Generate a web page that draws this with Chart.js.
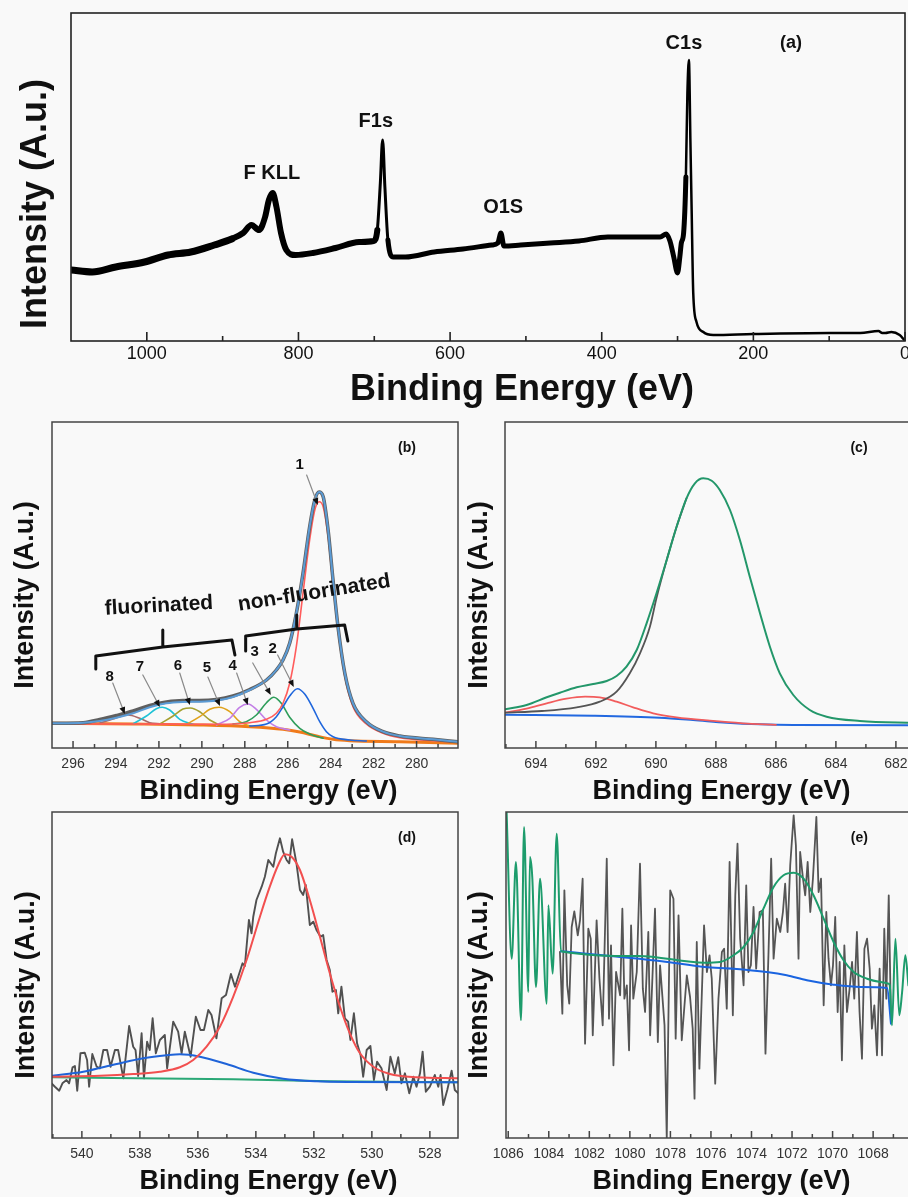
<!DOCTYPE html>
<html>
<head>
<meta charset="utf-8">
<script src="https://cdn.jsdelivr.net/npm/chart.js@4.4.1/dist/chart.umd.min.js"></script>
<style>
  html, body { margin: 0; padding: 0; background: #f9f9f9; overflow: hidden; }
  body { width: 908px; height: 1197px; position: relative; }
  canvas { position: absolute; }
</style>
</head>
<body>
<canvas id="panelA" width="908" height="415" style="left:0;top:0"></canvas>
<canvas id="panelB" width="460" height="395" style="left:0;top:415px"></canvas>
<canvas id="panelC" width="490" height="395" style="left:460px;top:415px"></canvas>
<canvas id="panelD" width="460" height="392" style="left:0;top:805px"></canvas>
<canvas id="panelE" width="490" height="392" style="left:460px;top:805px"></canvas>
<script>
const FONT = "'Liberation Sans', Arial, Helvetica, sans-serif";

// (a) survey spectrum
const surveyE = [1100, 1072, 1041, 1003, 972, 942, 911, 888, 873, 862, 852, 844, 839, 834, 829, 823, 816, 804, 781, 751,
  720, 701, 696, 692, 689, 686, 682, 675, 659, 621, 583, 545, 537, 533, 529, 507, 468, 430, 392, 354,
  323, 315, 310, 305, 300, 297, 295, 292, 289, 287, 285, 283, 281.4, 279.3, 275, 266, 253, 200, 100, 59,
  35, 30, 26, 18, 7, 1];
const surveyI = [71, 69, 74, 79, 86, 89, 96, 102, 108, 116, 111, 124, 141, 148, 134, 108, 91, 86, 88, 93,
  99, 100, 111, 158, 201, 154, 101, 84, 84, 89, 92, 96, 98, 108, 95, 96, 98, 100, 104, 104,
  104, 107, 100, 84, 68, 84, 98, 108, 164, 248, 281, 198, 131, 48, 19, 9, 6, 7, 8, 8,
  10, 8, 8, 9, 6, 1];
const surveyTicks = [0, 200, 400, 600, 800, 1000];
const surveyMinor = [100, 300, 500, 700, 900];

// (b) C1s
const c1sEnvE = [296.98, 295.53, 294.76, 293.98, 293.2, 292.43, 291.65, 290.88, 290.1, 289.32, 288.55, 287.77, 286.99, 286.53, 286.22, 285.91,
  285.6, 285.29, 284.98, 284.74, 284.54, 284.35, 284.12, 283.89, 283.66, 283.34, 282.96, 282.34, 281.56, 280.78, 279.23, 278.07];
const c1sEnvI = [24.7, 25.3, 27, 30.3, 34.7, 40.7, 44.7, 46, 46.3, 47.5, 51, 58, 68, 78, 88, 104.7,
  134.7, 174.7, 221.3, 248, 256, 251.3, 218, 168, 121.3, 74.7, 44.7, 26.3, 16.3, 12, 8.7, 6.3];
const c1sRawI = [24.7, 25.3, 28.5, 32.5, 37, 42.5, 46, 47.5, 47.5, 48.5, 52, 58.5, 68, 78, 88, 104.7,
  134.7, 174.7, 221.3, 248, 256, 251.3, 218, 168, 121.3, 74.7, 44.7, 26.3, 16.3, 12, 8.7, 6.3];
const peak1E = [296.98, 293.2, 290.1, 288.55, 287.77, 286.99, 286.53, 286.22, 285.91, 285.6, 285.29, 284.98, 284.74, 284.54, 284.35, 284.12,
  283.89, 283.66, 283.34, 282.96, 282.34, 281.56, 280.78, 279.23, 278.07];
const peak1I = [24, 24, 23.7, 24, 25.3, 28.7, 34.7, 44.7, 64.7, 101.3, 154.7, 208, 238, 246.3, 241.3, 211.3,
  163, 118, 71.3, 41.3, 24, 14.7, 10.3, 7.3, 5.7];
const peak2E = [287.77, 286.99, 286.53, 286.22, 285.91, 285.55, 285.21, 284.82, 284.51, 284.2, 283.89, 283.11, 282.34];
const peak2I = [22, 24, 31.3, 41.3, 52, 59.3, 54, 39.7, 26.3, 16.3, 11.3, 8, 7];
const peak3E = [288.55, 287.93, 287.46, 286.99, 286.65, 286.3, 285.91, 285.44, 284.98, 284.35];
const peak3I = [24, 26.3, 33, 45.3, 50.7, 44.7, 30.7, 19.7, 14, 9.7];
const peak4E = [289.32, 288.7, 288.24, 287.85, 287.46, 286.99, 286.53, 285.91];
const peak4I = [23, 29.7, 40.7, 44, 38.7, 28, 21.3, 18];
const peak5E = [290.72, 290.1, 289.63, 289.2, 288.7, 288.24, 287.77];
const peak5I = [23.7, 31.3, 38.7, 40.7, 36.3, 26.3, 22];
const peak6E = [291.96, 291.34, 290.88, 290.53, 290.1, 289.63, 289.17];
const peak6I = [24, 32, 39, 40, 36.3, 28, 23];
const peak7E = [293.2, 292.58, 292.12, 291.84, 291.5, 291.03, 290.41];
const peak7I = [24.3, 32, 39.3, 40.7, 38, 28.7, 23.7];
const peak8E = [294.76, 294.14, 293.44, 292.89, 292.43, 291.96];
const peak8I = [24.7, 29, 33, 29.7, 25.3, 24.3];
const c1sBaseE = [296.98, 293.2, 290.1, 287.77, 286.22, 285.44, 284.66, 283.89, 283.11, 280.78, 278.07];
const c1sBaseI = [24.7, 24, 23, 21.3, 18.7, 16, 12, 8.7, 7.3, 6.3, 4.7];
const c1sTicks = [280, 282, 284, 286, 288, 290, 292, 294, 296];
const c1sMinor = [279, 281, 283, 285, 287, 289, 291, 293, 295, 297];

// (c) F1s
const f1sEnvE = [695.03, 694.31, 693.64, 693.2, 692.64, 692.09, 691.64, 691.31, 690.98, 690.64, 690.31, 689.98, 689.64, 689.31, 688.98, 688.7,
  688.42, 688.14, 687.87, 687.53, 687.2, 686.87, 686.53, 686.2, 685.87, 685.42, 684.87, 684.31, 683.2, 681.6, 680.63];
const f1sEnvI = [38.7, 43, 50.7, 55.3, 60.7, 64, 67, 72, 81.3, 98, 124.7, 154.7, 188, 221.3, 249.7, 264.7,
  269.7, 267.3, 258, 238, 208, 171.3, 134.7, 101.3, 74.7, 53, 38, 31.3, 27, 25.3, 25];
const f1sMainE = [695.03, 693.8, 692.64, 691.87, 691.31, 690.87, 690.53, 690.2, 689.98, 689.64, 689.31, 688.98];
const f1sMainI = [35.3, 37, 40.7, 46.3, 56.3, 74.7, 94.7, 121.3, 150, 188, 221.3, 249.7];
const f1sSmallE = [695.03, 694.31, 693.64, 692.98, 692.36, 691.87, 691.31, 690.76, 690.09, 689.31, 688.2, 687.1, 686.0];
const f1sSmallI = [35.3, 39.3, 44.7, 49.3, 51.3, 50.7, 46.3, 40.7, 34.7, 30.7, 27.3, 24.7, 23.2];
const f1sBgE = [695.03, 692.09, 689.87, 688.76, 687.64, 686.53, 685.42, 681.6, 680.63];
const f1sBgI = [33.3, 32.3, 30.3, 28, 25.3, 23.7, 23, 22.7, 22.7];
const f1sTicks = [682, 684, 686, 688, 690, 692, 694];
const f1sMinor = [681, 683, 685, 687, 689, 691, 693, 695];

// (d) O1s
const o1sRawE = [541.05, 540.93, 540.78, 540.67, 540.53, 540.44, 540.32, 540.24, 540.16, 540.05, 539.9, 539.82, 539.75, 539.64, 539.49, 539.38,
  539.26, 539.13, 539.01, 538.86, 538.75, 538.57, 538.37, 538.23, 538.15, 538.06, 537.94, 537.86, 537.75, 537.66, 537.56, 537.45,
  537.31, 537.14, 537.06, 536.85, 536.68, 536.56, 536.45, 536.25, 536.07, 535.91, 535.79, 535.64, 535.53, 535.36, 535.18, 535.03,
  534.86, 534.72, 534.46, 534.38, 534.24, 534.15, 534.09, 533.98, 533.8, 533.69, 533.57, 533.4, 533.31, 533.17, 533.06, 532.94,
  532.85, 532.75, 532.6, 532.48, 532.37, 532.28, 532.14, 532.02, 531.91, 531.77, 531.68, 531.56, 531.45, 531.36, 531.24, 531.16,
  531.05, 530.93, 530.82, 530.74, 530.62, 530.51, 530.39, 530.3, 530.18, 530.05, 529.93, 529.82, 529.67, 529.49, 529.36, 529.21,
  529.09, 528.98, 528.86, 528.71, 528.57, 528.46, 528.34, 528.25, 528.14, 528.0, 527.83, 527.71, 527.63, 527.54, 527.4, 527.25,
  527.14, 527.02];
const o1sRawI = [54.7, 51.3, 47.3, 54.7, 58, 54.7, 70.7, 72, 47.3, 84.7, 85.3, 78, 51.3, 84, 71.3, 69.7,
  88, 88, 71.3, 88, 88, 59.7, 112, 91.3, 88, 62, 104.7, 59.7, 96.3, 88, 119.7, 84.7,
  98, 103, 69.7, 116.3, 106.3, 84.7, 106.3, 81.3, 121.3, 108, 108, 128, 123, 99.7, 139.7, 143,
  164, 151.3, 174.7, 172, 218, 204.7, 221.3, 238, 251.3, 261.3, 278, 271.3, 284.7, 299.7, 286.3, 278,
  274.7, 298.7, 274.7, 248, 243, 253, 213, 216.3, 208, 201.3, 203, 178, 168, 146.3, 148, 124.7,
  151.3, 119.7, 116.3, 98, 124.7, 94.7, 83, 61.3, 88, 92, 58, 76.3, 69.7, 48, 81.3, 64.7,
  80.7, 54.7, 64.7, 44.7, 61.3, 51.3, 64.7, 86.3, 46.3, 51.3, 63, 51.3, 63, 33, 48, 67.3,
  48, 44.7];
const o1sMainE = [541.02, 539.38, 538.23, 537.31, 536.62, 536.16, 535.7, 535.24, 534.78, 534.32, 533.86, 533.52, 533.23, 533.0, 532.77, 532.48,
  532.14, 531.79, 531.45, 531.1, 530.76, 530.41, 529.95, 529.38, 528.46, 527.03];
const o1sMainI = [61.3, 62.3, 64, 66.3, 70.7, 78, 91.3, 111.3, 141.3, 178, 221.3, 251.3, 273, 283.7, 281.3, 268,
  238, 201.3, 164.7, 131.3, 104.7, 84.7, 71.3, 64, 60.7, 59.7];
const o1sHighE = [541.02, 539.95, 538.8, 537.88, 537.08, 536.62, 535.93, 535.01, 534.09, 533.06, 531.91, 530.76, 527.03];
const o1sHighI = [62.3, 66.3, 74, 79.7, 82.7, 83.7, 81.3, 74, 65.3, 59.3, 56.7, 56, 55.7];
const o1sBgE = [541.02, 534.78, 531.45, 527.03];
const o1sBgI = [60.7, 58.7, 56.7, 55.7];
const o1sTicks = [528, 530, 532, 534, 536, 538, 540];
const o1sMinor = [529, 531, 533, 535, 537, 539, 541];

// (e) Na1s region
const naRawE = [1083.45, 1083.33, 1083.23, 1083.09, 1082.99, 1082.87, 1082.74, 1082.57, 1082.46, 1082.33, 1082.21, 1082.05, 1081.93, 1081.83, 1081.64, 1081.5,
  1081.34, 1081.14, 1081.03, 1080.93, 1080.81, 1080.68, 1080.48, 1080.37, 1080.27, 1080.15, 1080.04, 1079.94, 1079.83, 1079.66, 1079.5, 1079.36,
  1079.25, 1079.09, 1079.0, 1078.87, 1078.76, 1078.62, 1078.51, 1078.29, 1078.18, 1078.01, 1077.85, 1077.74, 1077.6, 1077.44, 1077.19, 1077.03,
  1076.9, 1076.81, 1076.7, 1076.57, 1076.34, 1076.2, 1076.07, 1075.96, 1075.79, 1075.63, 1075.46, 1075.35, 1075.22, 1075.08, 1074.92, 1074.8,
  1074.69, 1074.56, 1074.39, 1074.26, 1074.15, 1074.03, 1073.9, 1073.77, 1073.6, 1073.44, 1073.31, 1073.16, 1073.03, 1072.91, 1072.75, 1072.58,
  1072.45, 1072.34, 1072.22, 1072.09, 1071.92, 1071.81, 1071.68, 1071.6, 1071.46, 1071.35, 1071.23, 1071.1, 1070.97, 1070.8, 1070.69, 1070.57,
  1070.44, 1070.31, 1070.2, 1070.08, 1069.98, 1069.87, 1069.75, 1069.65, 1069.54, 1069.42, 1069.29, 1069.16, 1069.04, 1068.93, 1068.8, 1068.67,
  1068.55, 1068.43, 1068.3, 1068.17, 1068.06, 1067.94, 1067.81, 1067.68, 1067.56, 1067.45, 1067.35, 1067.23, 1067.12];
const naRawI = [186, 124.3, 247.7, 152.7, 134.3, 211, 226.7, 202.7, 217.7, 259.3, 94.3, 209.3, 199.3, 102.7, 217.7, 159.3,
  112.7, 279.3, 119.3, 192.7, 72.7, 166, 142.7, 229.3, 139.3, 152.7, 87.7, 212.7, 139.3, 166, 274.3, 149.3,
  126, 206, 102.7, 169.3, 229.3, 96, 172.7, 112.7, 0, 247.7, 239.3, 99.3, 222.7, 97.7, 162.7, 141,
  109.3, 39.3, 196, 69.3, 212.7, 166, 182.7, 159.3, 54.3, 139.3, 186, 189.3, 129.3, 276, 122.7, 242.7,
  294.3, 199.3, 152.7, 252.7, 166, 172.7, 231, 169.3, 226, 227.7, 84.3, 186, 279.3, 179.3, 219.3, 206,
  226, 254.3, 206, 272.7, 322.7, 292.7, 179.3, 286, 259.3, 242.7, 276, 226, 259.3, 321, 246, 259.3,
  132.7, 226, 179.3, 152.7, 172.7, 221, 126, 176, 77.7, 192.7, 126, 149.3, 176, 139.3, 206, 126,
  79.3, 189.3, 199.3, 169.3, 109.3, 132.7, 82.7, 169.3, 82.7, 209.3, 139.3, 242.7, 119.3];
const naFitE = [1086.08, 1085.83, 1085.62, 1085.37, 1085.22, 1085.01, 1084.93, 1084.81, 1084.63, 1084.43, 1084.1, 1084.02, 1083.81, 1083.61, 1083.4, 1079.58,
  1076.31, 1075.55, 1074.89, 1074.39, 1073.9, 1073.41, 1072.91, 1072.42, 1071.92, 1071.43, 1070.94, 1070.44, 1069.95, 1069.46, 1068.96, 1068.3,
  1067.64, 1067.23, 1067.18, 1067.07, 1066.9, 1066.71, 1066.57, 1066.41, 1066.26];
const naFitI = [326, 179.3, 276, 117.7, 311, 146, 281, 259.3, 151, 259.3, 134.3, 232.7, 164.3, 304.3, 186.7, 182,
  175.3, 176, 182.7, 191, 206, 229.3, 251, 262.7, 265.3, 259.3, 242.7, 219.3, 196, 177.7, 166, 159.3,
  156, 154.3, 152.7, 112.7, 199.3, 122.7, 146, 182.7, 152.7];
const naBgE = [1083.4, 1078.43, 1076.31, 1074.89, 1073.25, 1072.26, 1071.27, 1069.95, 1068.63, 1067.31, 1067.12];
const naBgI = [186.7, 176.7, 171, 169.3, 166, 162.7, 157.7, 153.3, 151, 150, 114.3];
const naTicks = [1068, 1070, 1072, 1074, 1076, 1078, 1080, 1082, 1084, 1086];
const naMinor = [1065, 1067, 1069, 1071, 1073, 1075, 1077, 1079, 1081, 1083, 1085];

function xy(xs, ys) { return xs.map((x, i) => ({ x: x, y: ys[i] })); }

function curve(xs, ys, color, width, smooth, extra) {
  return Object.assign({
    data: xy(xs, ys), borderColor: color, borderWidth: width, pointRadius: 0, fill: false,
    cubicInterpolationMode: smooth ? 'monotone' : 'default', tension: 0,
    borderJoinStyle: 'round', borderCapStyle: 'round'
  }, extra || {});
}

function surveyWidth(e) {
  if (e < 292) return 2.5;
  if (e > 682 && e < 697) return 3;
  if (e >= 900) return 7;
  if (e >= 700) return 6;
  return 5;
}

function deco(p) {
  return {
    id: 'deco' + p.name,
    afterDraw(chart) {
      const ctx = chart.ctx, a = chart.chartArea;
      const sx = chart.scales.x, sy = chart.scales.y;
      const X = v => sx.getPixelForValue(v), Y = v => sy.getPixelForValue(v);
      const inRange = v => v >= sx.min && v <= sx.max;
      ctx.save();
      ctx.strokeStyle = p.frame;
      ctx.lineWidth = p.frameWidth;
      ctx.strokeRect(a.left, a.top, a.right - a.left, a.bottom - a.top);
      ctx.beginPath();
      p.major.filter(inRange).forEach(v => { ctx.moveTo(X(v), a.bottom); ctx.lineTo(X(v), a.bottom - p.majorLen); });
      p.minor.filter(inRange).forEach(v => { ctx.moveTo(X(v), a.bottom); ctx.lineTo(X(v), a.bottom - p.minorLen); });
      ctx.stroke();

      (p.brackets || []).forEach(b => {
        ctx.beginPath();
        ctx.strokeStyle = '#111'; ctx.lineWidth = 3; ctx.lineJoin = 'round'; ctx.lineCap = 'round';
        b.forEach((pt, i) => i ? ctx.lineTo(X(pt[0]), Y(pt[1])) : ctx.moveTo(X(pt[0]), Y(pt[1])));
        ctx.stroke();
      });

      (p.arrows || []).forEach(ar => {
        const x0 = X(ar[0]), y0 = Y(ar[1]), x1 = X(ar[2]), y1 = Y(ar[3]);
        const ang = Math.atan2(y1 - y0, x1 - x0);
        ctx.beginPath();
        ctx.strokeStyle = '#8a8a8a'; ctx.lineWidth = 1.2;
        ctx.moveTo(x0, y0); ctx.lineTo(x1 - 5 * Math.cos(ang), y1 - 5 * Math.sin(ang));
        ctx.stroke();
        ctx.beginPath();
        ctx.fillStyle = '#111';
        ctx.moveTo(x1, y1);
        ctx.lineTo(x1 - 7 * Math.cos(ang) + 3 * Math.sin(ang), y1 - 7 * Math.sin(ang) - 3 * Math.cos(ang));
        ctx.lineTo(x1 - 7 * Math.cos(ang) - 3 * Math.sin(ang), y1 - 7 * Math.sin(ang) + 3 * Math.cos(ang));
        ctx.closePath();
        ctx.fill();
      });

      ctx.fillStyle = '#111';
      ctx.textAlign = 'center';
      ctx.textBaseline = 'middle';
      (p.notes || []).forEach(n => {
        ctx.save();
        ctx.translate(X(n.e), Y(n.v));
        if (n.rot) ctx.rotate(n.rot * Math.PI / 180);
        ctx.font = n.font;
        ctx.fillText(n.text, 0, 0);
        ctx.restore();
      });
      (p.titles || []).forEach(t => {
        ctx.save();
        ctx.translate(t.x, t.y);
        if (t.rot) ctx.rotate(t.rot * Math.PI / 180);
        ctx.font = t.font;
        ctx.fillText(t.text, 0, 0);
        ctx.restore();
      });
      ctx.restore();
    }
  };
}

function panel(id, p) {
  return new Chart(document.getElementById(id), {
    type: 'line',
    data: { datasets: p.datasets },
    options: {
      responsive: false,
      animation: false,
      events: [],
      layout: { autoPadding: false, padding: { left: p.box[0], top: p.box[1], right: p.box[2], bottom: 0 } },
      plugins: { legend: { display: false }, tooltip: { enabled: false } },
      scales: {
        x: {
          type: 'linear', reverse: true, min: p.xMin, max: p.xMax,
          grid: { display: false }, border: { display: false },
          afterBuildTicks: s => { s.ticks = p.major.map(v => ({ value: v })); },
          afterFit: s => { s.height = p.box[3]; s.paddingLeft = 0; s.paddingRight = 0; },
          ticks: {
            padding: p.tickPad, color: p.tickColor, autoSkip: false, maxRotation: 0, minRotation: 0,
            font: { family: FONT, size: p.tickSize }, callback: v => String(v)
          }
        },
        y: { display: false, min: 0, max: p.yMax }
      }
    },
    plugins: [deco(p)]
  });
}

const titleFont = 'bold 27px ' + FONT;
const numFont = 'bold 15px ' + FONT;
const tagFont = 'bold 14px ' + FONT;

panel('panelA', {
  name: 'A', box: [71, 13, 3, 74], xMin: 0, xMax: 1100, yMax: 328,
  major: surveyTicks, minor: surveyMinor, majorLen: 9, minorLen: 5,
  frame: '#222', frameWidth: 1.6, tickPad: -6, tickColor: '#111', tickSize: 18,
  datasets: [
    curve(surveyE, surveyI, '#000', 3, true, { segment: { borderWidth: c => surveyWidth(c.p0.parsed.x) } })
  ],
  notes: [
    { text: 'F KLL', e: 835, v: 168, font: 'bold 20px ' + FONT },
    { text: 'F1s', e: 698, v: 220, font: 'bold 20px ' + FONT },
    { text: 'O1S', e: 530, v: 134, font: 'bold 20px ' + FONT },
    { text: 'C1s', e: 291.6, v: 298, font: 'bold 20px ' + FONT },
    { text: '(a)', e: 150.4, v: 298, font: 'bold 18px ' + FONT }
  ],
  titles: [
    { text: 'Intensity (A.u.)', x: 36, y: 204, rot: -90, font: 'bold 36px ' + FONT },
    { text: 'Binding Energy (eV)', x: 522, y: 390, font: 'bold 36px ' + FONT }
  ]
});

panel('panelB', {
  name: 'B', box: [52, 7, 2, 62], xMin: 278.07, xMax: 296.98, yMax: 326,
  major: c1sTicks, minor: c1sMinor, majorLen: 7, minorLen: 4,
  frame: '#444', frameWidth: 1.5, tickPad: 0, tickColor: '#333', tickSize: 14,
  datasets: [
    curve(c1sEnvE, c1sEnvI, '#5b9bd5', 2, true),
    curve(c1sEnvE, c1sRawI, '#5f5f5f', 3.5, true),
    curve(peak1E, peak1I, '#ff5c5c', 1.6, true),
    curve(peak2E, peak2I, '#1f66dc', 1.6, true),
    curve(peak3E, peak3I, '#2e9d5a', 1.6, true),
    curve(peak4E, peak4I, '#c27ee6', 1.6, true),
    curve(peak5E, peak5I, '#e0a21c', 1.6, true),
    curve(peak6E, peak6I, '#a5a030', 1.6, true),
    curve(peak7E, peak7I, '#1fc2d6', 1.6, true),
    curve(peak8E, peak8I, '#a86a6a', 1.6, true),
    curve(c1sBaseE, c1sBaseI, '#f07a1a', 3, true)
  ],
  brackets: [
    [[294.94, 79], [294.94, 92], [291.82, 101], [291.82, 118], [291.82, 101], [288.6, 108], [288.46, 93]],
    [[287.96, 97], [287.96, 112], [285.58, 119], [285.58, 133], [285.58, 119], [283.35, 123], [283.2, 107]]
  ],
  arrows: [
    [285.12, 273, 284.6, 243], [286.47, 93, 285.72, 61], [287.63, 85, 286.79, 53], [288.38, 75, 287.86, 43],
    [289.72, 71, 289.16, 42], [291.03, 75, 290.56, 43], [292.75, 73, 291.96, 41], [294.15, 65, 293.59, 34]
  ],
  notes: [
    { text: '1', e: 285.44, v: 283, font: numFont },
    { text: '2', e: 286.7, v: 99, font: numFont },
    { text: '3', e: 287.54, v: 96, font: numFont },
    { text: '4', e: 288.56, v: 82, font: numFont },
    { text: '5', e: 289.77, v: 80, font: numFont },
    { text: '6', e: 291.12, v: 82, font: numFont },
    { text: '7', e: 292.89, v: 81, font: numFont },
    { text: '8', e: 294.29, v: 71, font: numFont },
    { text: 'fluorinated', e: 292.0, v: 142, rot: -3, font: 'bold 21px ' + FONT },
    { text: 'non-fluorinated', e: 284.77, v: 155, rot: -9, font: 'bold 21px ' + FONT },
    { text: '(b)', e: 280.45, v: 300, font: tagFont }
  ],
  titles: [
    { text: 'Intensity (A.u.)', x: 26, y: 180, rot: -90, font: titleFont },
    { text: 'Binding Energy (eV)', x: 268.5, y: 377, font: titleFont }
  ]
});

panel('panelC', {
  name: 'C', box: [45, 7, 13, 62], xMin: 680.63, xMax: 695.03, yMax: 326,
  major: f1sTicks, minor: f1sMinor, majorLen: 7, minorLen: 4,
  frame: '#444', frameWidth: 1.5, tickPad: 0, tickColor: '#333', tickSize: 14,
  datasets: [
    curve(f1sEnvE, f1sEnvI, '#23976a', 2, true),
    curve(f1sMainE, f1sMainI, '#555', 1.8, true),
    curve(f1sSmallE, f1sSmallI, '#f25c5c', 1.8, true),
    curve(f1sBgE, f1sBgI, '#2268e0', 2, true)
  ],
  notes: [{ text: '(c)', e: 683.23, v: 300, font: tagFont }],
  titles: [
    { text: 'Intensity (A.u.)', x: 20, y: 180, rot: -90, font: titleFont },
    { text: 'Binding Energy (eV)', x: 261.5, y: 377, font: titleFont }
  ]
});

panel('panelD', {
  name: 'D', box: [52, 7, 2, 59], xMin: 527.03, xMax: 541.03, yMax: 326,
  major: o1sTicks, minor: o1sMinor, majorLen: 7, minorLen: 4,
  frame: '#444', frameWidth: 1.5, tickPad: 0, tickColor: '#333', tickSize: 14,
  datasets: [
    curve(o1sMainE, o1sMainI, '#f24f4f', 2, true),
    curve(o1sHighE, o1sHighI, '#1f63d8', 2, true),
    curve(o1sBgE, o1sBgI, '#2aa876', 2, true),
    curve(o1sRawE, o1sRawI, '#505050', 1.9, false)
  ],
  notes: [{ text: '(d)', e: 528.79, v: 300, font: tagFont }],
  titles: [
    { text: 'Intensity (A.u.)', x: 27, y: 180, rot: -90, font: titleFont },
    { text: 'Binding Energy (eV)', x: 268.5, y: 377, font: titleFont }
  ]
});

panel('panelE', {
  name: 'E', box: [46, 7, 12, 59], xMin: 1064.8, xMax: 1086.11, yMax: 326,
  major: naTicks, minor: naMinor, majorLen: 7, minorLen: 4,
  frame: '#444', frameWidth: 1.5, tickPad: 0, tickColor: '#333', tickSize: 14,
  datasets: [
    curve(naFitE, naFitI, '#1d9c6c', 2, true),
    curve(naBgE, naBgI, '#1a64e0', 2, true),
    curve(naRawE, naRawI, '#555', 1.8, false)
  ],
  notes: [{ text: '(e)', e: 1068.68, v: 300, font: tagFont }],
  titles: [
    { text: 'Intensity (A.u.)', x: 20, y: 180, rot: -90, font: titleFont },
    { text: 'Binding Energy (eV)', x: 261.5, y: 377, font: titleFont }
  ]
});
</script>
</body>
</html>
